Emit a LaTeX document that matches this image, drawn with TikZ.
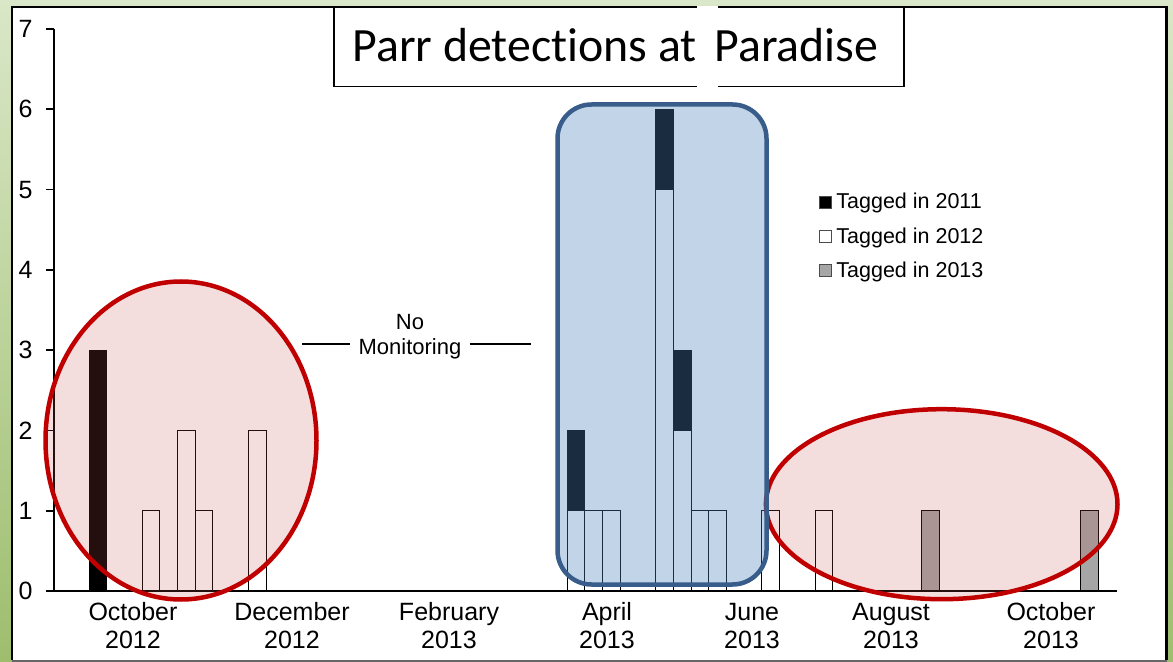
\documentclass[tikz,border=0pt]{standalone}
\usepackage{fontspec}
\setmainfont{Liberation Sans}
\newfontfamily\titlefont[Ligatures=NoCommon]{Carlito}
\definecolor{greenT}{RGB}{218,231,200}
\definecolor{greenB}{RGB}{158,190,110}
\definecolor{redline}{RGB}{192,0,0}
\definecolor{redfill}{RGB}{192,80,77}
\definecolor{blueline}{RGB}{56,93,138}
\definecolor{bluefill}{RGB}{79,129,189}
\definecolor{graybar}{RGB}{166,166,166}
\begin{document}
\begin{tikzpicture}[x=0.5pt,y=-0.5pt,
  bar/.style={draw=black,line width=0.5pt},
  axisline/.style={draw=black,line width=0.8pt},
  axislbl/.style={font=\fontsize{12.5}{14}\selectfont,inner sep=0pt},
  legtext/.style={font=\fontsize{10.75}{12}\selectfont,inner sep=0pt,anchor=base west},
  legkey/.style={draw=black!70,line width=0.4pt,minimum size=6pt,inner sep=0pt},
  nomon/.style={font=\fontsize{11}{12}\selectfont,inner sep=0pt,anchor=base},
  redoval/.style={draw=redline,line width=2.25pt,fill=redfill,fill opacity=0.19},
  bluebox/.style={draw=blueline,line width=2.25pt,fill=bluefill,fill opacity=0.34,rounded corners=17pt},
  titletext/.style={font=\titlefont\fontsize{23.9}{26}\selectfont,inner sep=0pt,anchor=base west}]
\useasboundingbox (0,0) rectangle (1173,662);
% background and panel
\fill[top color=greenT,bottom color=greenB] (0,0) rectangle (1173,662);
\fill[white] (12,7) rectangle (1166.5,660);
\draw[black,line width=1.25pt] (12,660) -- (12,7) -- (1166.5,7) -- (1166.5,660);
\draw[black!60,line width=1pt] (12,661) -- (1166.5,661);
% bars
\foreach \s/\h in {3/1,5/2,6/1,9/2,27/1,28/1,29/1,32/5,33/2,34/1,35/1,38/1,41/1}
  \draw[bar,fill=white] ({89+17.71*\s},591) rectangle ({89+17.71*(\s+1)},{591-80.29*\h});
\foreach \s/\lo/\hi in {0/0/3,27/1/2,32/5/6,33/2/3}
  \draw[bar,fill=black] ({89+17.71*\s},{591-80.29*\lo}) rectangle ({89+17.71*(\s+1)},{591-80.29*\hi});
\foreach \s in {47,56}
  \draw[bar,fill=graybar] ({89+17.71*\s},591) rectangle ({89+17.71*(\s+1)},{591-80.29});
% axes
\draw[axisline] (54,29) -- (54,591);
\draw[axisline] (46,591) -- (1117,591);
\foreach \v in {0,...,7}{
  \draw[axisline] (46,{591-80.29*\v}) -- (54,{591-80.29*\v});
  \node[axislbl,anchor=east] (y\v) at (33,{591-80.29*\v}) {\v};
}
\foreach \x/\m/\yr/\n in {133/October/2012/a,292/December/2012/b,449/February/2013/c,607/April/2013/d,752/June/2013/e,891/August/2013/f,1051/October/2013/g}{
  \node[axislbl,anchor=base] (m\n) at (\x,620) {\m};
  \node[axislbl,anchor=base] (yr\n) at (\x,648) {\yr};
}
% highlight overlays
\draw[redoval] (181,440.5) ellipse [x radius=67.75pt, y radius=79.5pt];
\draw[redoval] (941.7,504.2) ellipse [x radius=87.9pt, y radius=47.5pt];
\draw[bluebox] (557.5,104.5) rectangle (766.5,584.5);
% legend
\node[legkey,fill=black] (k1) at (825,202) {};
\node[legkey,fill=white] (k2) at (825,236) {};
\node[legkey,fill=graybar] (k3) at (825,270) {};
\node[legtext] (t1) at (836,208.3) {Tagged in 2011};
\node[legtext] (t2) at (836,243.3) {Tagged in 2012};
\node[legtext] (t3) at (836,277.3) {Tagged in 2013};
% no monitoring
\node[nomon] (no) at (410,329.3) {No};
\node[nomon,inner xsep=4pt] (mon) at (410,355) {Monitoring};
\coordinate (nmL) at (302,344);
\coordinate (nmR) at (531,344);
\draw[black,line width=1pt] (nmL) -- (nmL -| mon.west);
\draw[black,line width=1pt] (nmL -| mon.east) -- (nmR);
% title
\node[draw=black,fill=white,line width=0.75pt,minimum width=285pt,minimum height=39.5pt,anchor=north west,inner sep=0pt] (titlebox) at (333,7) {};
\fill[white] (697,6.4) rectangle (718,88);
\node[titletext] (title1) at (352,62) {Parr detections at};
\node[titletext] (title2) at (714,62) {Paradise};
\end{tikzpicture}
\end{document}
